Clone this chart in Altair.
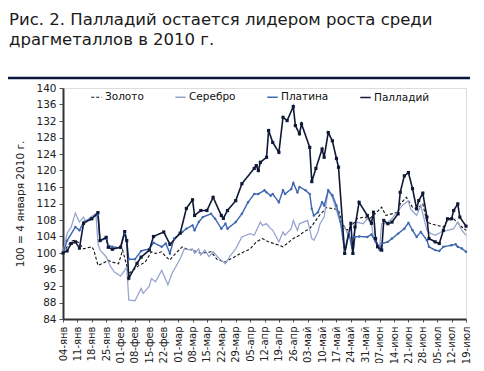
import altair as alt
import pandas as pd

tick_labels = ["04-янв", "11-янв", "18-янв", "25-янв", "01-фев", "08-фев", "15-фев",
               "22-фев", "01-мар", "08-мар", "15-мар", "22-мар", "29-мар", "05-апр",
               "12-апр", "19-апр", "26-апр", "03-май", "10-май", "17-май", "24-май",
               "31-май", "07-июн", "14-июн", "21-июн", "28-июн", "05-июл", "12-июл", "19-июл"]

series_names = ["Золото", "Серебро", "Платина", "Палладий"]

# days since 4 Jan 2010
gold_day = [0, 2, 4, 6, 8, 10, 14, 15, 17, 19, 22, 24, 27, 29, 32, 35, 37, 40, 43, 45, 48, 50, 52, 54,
            58, 60, 63, 67, 72, 75, 79, 81, 85, 88, 91, 94, 97, 100, 105, 107, 110, 112, 115, 117,
            120, 123, 125, 127, 128, 132, 134, 136, 138, 140, 143, 146, 149, 151, 155, 157, 163,
            164, 167, 170, 172, 175, 177, 179, 182, 185, 187, 190, 194, 196]
gold_val = [100, 101.5, 102.9, 103.1, 102.3, 101, 101.5, 100.7, 97, 97.4, 98.2, 97.8, 97.4, 100.7,
            95, 96.2, 97, 97.8, 100.3, 99.9, 100.3, 99.1, 98.3, 99.5, 101.5, 101, 100.7, 99.9, 100.3,
            98.4, 97.8, 98.4, 99.5, 100.3, 101, 102.7, 103.5, 102.7, 101.9, 101.5, 102.7, 103.5,
            104.3, 105.1, 105.9, 107.9, 109.3, 110.3, 111, 110.7, 110.3, 107.1, 105.5, 106.3, 108.3,
            108.7, 108.3, 109.1, 111.1, 109.1, 109.9, 111.9, 113.5, 111.1, 110.7, 111.9, 107.5,
            107.1, 106.7, 106.3, 107.9, 108.3, 106.3, 105.5]

silver_day = [0, 2, 4, 6, 8, 10, 11, 14, 16, 17, 18, 21, 23, 25, 28, 30, 31, 32, 35, 38, 39, 42, 43,
              45, 48, 51, 53, 57, 59, 61, 63, 64, 66, 67, 69, 71, 73, 76, 79, 81, 84, 87, 91, 93, 96,
              97, 99, 101, 102, 105, 107, 108, 111, 112, 114, 115, 117, 119, 121, 122, 124, 125, 127,
              129, 131, 134, 136, 137, 139, 141, 143, 146, 148, 150, 151, 154, 155, 157, 160, 163,
              165, 168, 169, 172, 174, 177, 179, 181, 184, 187, 190, 192, 194, 196]
silver_val = [100, 104.8, 106.3, 109.7, 107.5, 108.7, 107.7, 108.9, 109.5, 102.3, 100.7, 99.1, 96.8,
              95.4, 94.4, 95.8, 96.6, 88.6, 88.4, 91.4, 90.2, 92, 93.8, 93, 95.8, 92.3, 95, 98.6, 101,
              100.8, 101, 99.9, 101, 99.5, 100.7, 99.1, 100.3, 98.6, 97.4, 99.1, 101, 103.9, 104.7,
              104.3, 107.5, 106.7, 107.1, 105.9, 105.5, 102.7, 105.1, 104.3, 105.9, 107.9, 105.5,
              107.1, 107.5, 107.9, 103.5, 103.1, 105.1, 107.1, 108.7, 115.2, 113.5, 108.7, 105.5,
              106.3, 103.9, 103.5, 107.5, 107.1, 108.3, 107.1, 103.9, 101.5, 107.1, 107.1, 108.3,
              110.3, 111.5, 112.7, 110.7, 109.1, 111.5, 105.5, 104.7, 104.3, 105.1, 105.5, 105.9,
              107.5, 105.5, 104.3]

platinum_day = [0, 2, 6, 8, 10, 14, 17, 18, 21, 22, 24, 28, 30, 31, 32, 35, 38, 42, 44, 48, 50, 52,
                54, 58, 60, 63, 64, 66, 68, 72, 74, 77, 79, 80, 84, 87, 90, 93, 95, 98, 99, 101, 102,
                105, 107, 108, 111, 112, 114, 115, 118, 120, 121, 122, 124, 126, 127, 129, 131, 133,
                135, 137, 139, 141, 142, 144, 148, 150, 152, 154, 155, 158, 160, 163, 166, 168, 170,
                172, 174, 177, 178, 181, 183, 185, 189, 191, 192, 194, 196]
platinum_val = [100, 103, 106.3, 105.5, 107.5, 108.5, 109.3, 103, 103.5, 101.8, 101.5, 101.2, 104.8,
                103, 98.5, 98.5, 100.5, 101, 102.5, 101.5, 102.3, 99.9, 103.5, 105.1, 105.9, 106.7,
                105.5, 107.5, 108.7, 109.5, 108.3, 105.9, 107.1, 105.9, 107.5, 109.5, 112.3, 114.3,
                114.3, 115.2, 114.7, 113.9, 114.3, 112.3, 115.2, 114.3, 115.5, 117, 114.7, 116, 115.2,
                114.3, 110.7, 109.1, 109.9, 112.3, 111.5, 115.2, 114, 111.5, 107.5, 100.3, 105, 99.9,
                103.9, 104, 103.9, 104.5, 102.7, 100.7, 102.3, 102.7, 103.5, 104.7, 105.9, 107.3,
                105.5, 103.9, 105.1, 103.1, 101.5, 100.7, 100.5, 101.5, 101.9, 102.1, 101.5, 101.1,
                100.3]

palladium_day = [0, 2, 4, 6, 8, 10, 14, 17, 18, 21, 22, 24, 28, 30, 31, 32, 36, 38, 42, 44, 49, 52,
                 57, 60, 63, 64, 67, 70, 73, 77, 78, 80, 84, 87, 93, 94, 95, 96, 99, 100, 102, 105,
                 107, 109, 112, 113, 115, 116, 120, 121, 123, 126, 127, 129, 131, 133, 134, 137, 140,
                 141, 142, 144, 148, 150, 151, 152, 153, 155, 156, 158, 160, 163, 164, 166, 168, 170,
                 172, 173, 175, 177, 178, 181, 183, 185, 187, 189, 190, 192, 193, 196]
palladium_val = [100, 100.5, 102.3, 102.7, 101.2, 107.2, 108.3, 109.8, 103, 103.8, 101.4, 100.9,
                 101.4, 105.2, 103, 93.9, 97.5, 99, 100.7, 104, 105.1, 102.1, 104.8, 110.8, 112.9,
                 109.1, 110.3, 110.3, 113.5, 109.1, 108.4, 110.3, 112.7, 116.8, 120.5, 121.2, 120,
                 122, 123.2, 129.7, 126.8, 124.4, 132.9, 132.1, 135.5, 130.9, 128.9, 131.3, 125.6,
                 117.3, 120.5, 125.2, 123.2, 129.2, 127.2, 122.9, 120.8, 99.9, 107.2, 99.9, 106.3,
                 112.3, 109.1, 107.2, 109.9, 103.5, 101.5, 100.7, 107.9, 107.1, 107.5, 109.5, 114.7,
                 118.7, 119.5, 115.6, 110.7, 112.7, 114.5, 108.7, 103.5, 102.7, 102.3, 105.5, 108.3,
                 108.3, 110.3, 111.9, 108.7, 106.5]

line_colors = ["#111111", "#97a3cf", "#4068b0", "#0f1836"]
line_widths = [1.1, 1.6, 1.6, 1.8]

frames = []
for name, d, v in zip(series_names,
                      [gold_day, silver_day, platinum_day, palladium_day],
                      [gold_val, silver_val, platinum_val, palladium_val]):
    frames.append(pd.DataFrame({"day": d, "value": v, "series": name}))
df = pd.concat(frames, ignore_index=True)

label_js = "[" + ",".join("'" + t + "'" for t in tick_labels) + "]"

x_enc = alt.X("day:Q",
              scale=alt.Scale(domain=[0, 196], nice=False),
              axis=alt.Axis(values=list(range(0, 197, 7)),
                            labelExpr=label_js + "[round(datum.value/7)]",
                            labelAngle=-90, title=None, grid=False, labelOverlap=False,
                            labelFontSize=10, labelColor="#222222", labelFont="DejaVu Sans",
                            domainColor="#333333", domainWidth=2, tickColor="#555555",
                            tickSize=3, labelPadding=4))
y_enc = alt.Y("value:Q",
              scale=alt.Scale(domain=[84, 140], nice=False, zero=False),
              axis=alt.Axis(values=list(range(84, 141, 4)), title="100 = 4 января 2010 г.",
                            grid=False, labelOverlap=False, labelFontSize=10.5,
                            labelColor="#222222",
                            labelFont="DejaVu Sans", titleFont="DejaVu Sans",
                            titleFontSize=10.5, titleFontWeight="normal", titleColor="#222222",
                            titlePadding=10, domainColor="#333333", domainWidth=2,
                            tickColor="#555555", tickSize=4, labelPadding=3))

legend_opts = dict(title=None, orient="none", legendX=27, legendY=3,
                   direction="horizontal", columns=4, columnPadding=28,
                   symbolType="stroke", symbolSize=110, symbolStrokeWidth=2,
                   labelFontSize=10.5, labelFont="DejaVu Sans",
                   labelColor="#111111", labelOffset=2)

lines = alt.Chart(df).mark_line().encode(
    x=x_enc,
    y=y_enc,
    color=alt.Color("series:N",
                    scale=alt.Scale(domain=series_names, range=line_colors),
                    legend=alt.Legend(**legend_opts)),
    strokeDash=alt.StrokeDash("series:N",
                              scale=alt.Scale(domain=series_names,
                                              range=[[3, 2], [1, 0], [1, 0], [1, 0]]),
                              legend=alt.Legend(**legend_opts)),
    strokeWidth=alt.StrokeWidth("series:N",
                                scale=alt.Scale(domain=series_names, range=line_widths),
                                legend=None),
    order=alt.Order("day:Q"),
)

plat_pts = alt.Chart(df).transform_filter(
    alt.datum.series == "Платина"
).mark_point(filled=True, shape="circle", size=6, color="#4068b0", opacity=1).encode(
    x=x_enc, y=y_enc)

pall_pts = alt.Chart(df).transform_filter(
    alt.datum.series == "Палладий"
).mark_point(filled=True, shape="square", size=10, color="#0f1836", opacity=1).encode(
    x=x_enc, y=y_enc)

top_rule = alt.Chart(df).transform_filter(
    alt.datum.day == 0
).transform_filter(alt.datum.series == "Золото").mark_rule(
    color="#0c1440", strokeWidth=2.5
).encode(x=alt.value(-55), x2=alt.value(407), y=alt.value(-10))

chart = alt.layer(lines, plat_pts, pall_pts, top_rule).properties(
    width=403, height=231,
    autosize=alt.AutoSizeParams(type="none"),
    padding={"left": 55, "top": 80, "right": 10, "bottom": 44},
    title=alt.TitleParams(
        text=["Рис. 2. Палладий остается лидером роста среди", "драгметаллов в 2010 г."],
        anchor="start", frame="group", dx=-54, offset=28, fontSize=16.5,
        font="DejaVu Sans", fontWeight="normal", color="#1a1a1a", lineHeight=20),
).configure_view(stroke=None).configure_axis(labelOverlap=False).configure(background="white")

chart.save("out.html", embed_options={"renderer": "svg", "actions": False})
